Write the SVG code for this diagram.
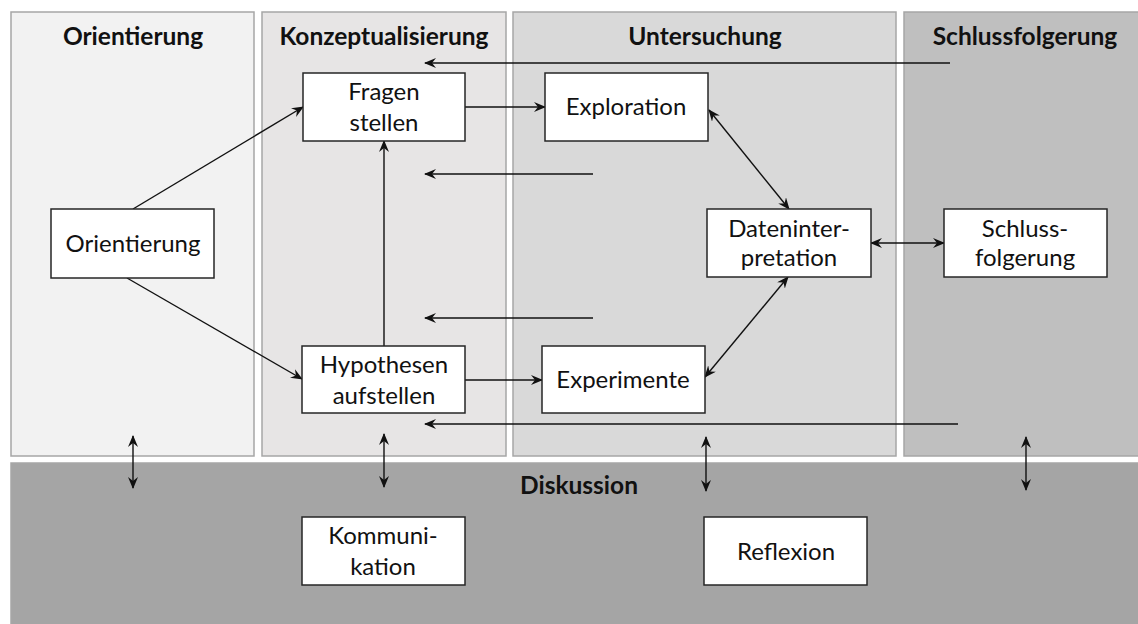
<svg xmlns="http://www.w3.org/2000/svg" width="1138" height="624" viewBox="0 0 1138 624">
<style>
.panel{stroke:#a6a6a6;stroke-width:1.5}
.node rect{fill:#fff;stroke:#262626;stroke-width:1.5}
.node text{font-family:Lato,"Liberation Sans",sans-serif;font-size:24px;fill:#111;text-anchor:middle}
.h{font-family:Lato,"Liberation Sans",sans-serif;font-size:24.5px;font-weight:bold;fill:#111;text-anchor:middle}
.c line{stroke:#111;stroke-width:1.4;fill:none}
</style>
<defs>
<marker id="a" viewBox="0 0 12 10" refX="11" refY="5" markerWidth="12" markerHeight="10" markerUnits="userSpaceOnUse" orient="auto-start-reverse">
<path d="M0,0 L12,5 L0,10 L4,5 z" fill="#111"/>
</marker>
</defs>
<rect width="1138" height="624" fill="#fff"/>
<g id="panels">
<rect class="panel" x="11" y="12" width="243" height="444" fill="#f2f2f2"/>
<rect class="panel" x="262" y="12" width="244" height="444" fill="#e7e5e5"/>
<rect class="panel" x="513" y="12" width="383" height="444" fill="#d9d9d9"/>
<rect class="panel" x="904" y="12" width="236" height="444" fill="#bfbfbf"/>
<rect class="panel" x="11" y="463" width="1129" height="163" fill="#a5a5a5"/>
<text class="h" x="133" y="45">Orientierung</text>
<text class="h" x="384" y="45">Konzeptualisierung</text>
<text class="h" x="705" y="45">Untersuchung</text>
<text class="h" x="1025" y="45">Schlussfolgerung</text>
<text class="h" x="579" y="494">Diskussion</text>
</g>
<g class="c" id="connectors">
<line x1="950" y1="63" x2="425" y2="63" marker-end="url(#a)"/>
<line x1="593" y1="174" x2="425" y2="174" marker-end="url(#a)"/>
<line x1="593" y1="318" x2="425" y2="318" marker-end="url(#a)"/>
<line x1="958" y1="424" x2="425" y2="424" marker-end="url(#a)"/>
<line x1="133" y1="209" x2="303" y2="107" marker-end="url(#a)"/>
<line x1="127" y1="278" x2="302" y2="379" marker-end="url(#a)"/>
<line x1="384" y1="346" x2="384" y2="141" marker-end="url(#a)"/>
<line x1="465" y1="107" x2="545" y2="107" marker-end="url(#a)"/>
<line x1="465" y1="380" x2="542" y2="380" marker-end="url(#a)"/>
<line x1="709" y1="110" x2="789" y2="209" marker-start="url(#a)" marker-end="url(#a)"/>
<line x1="705" y1="377" x2="788" y2="277" marker-start="url(#a)" marker-end="url(#a)"/>
<line x1="871" y1="243" x2="944" y2="243" marker-start="url(#a)" marker-end="url(#a)"/>
<line x1="133" y1="436" x2="133" y2="488" marker-start="url(#a)" marker-end="url(#a)"/>
<line x1="384" y1="434" x2="384" y2="487" marker-start="url(#a)" marker-end="url(#a)"/>
<line x1="706" y1="437" x2="706" y2="491" marker-start="url(#a)" marker-end="url(#a)"/>
<line x1="1026" y1="437" x2="1026" y2="490" marker-start="url(#a)" marker-end="url(#a)"/>
</g>
<g class="node" id="fragen"><rect x="303" y="73" width="162" height="68"/><text x="384" y="100">Fragen</text><text x="384" y="131">stellen</text></g>
<g class="node" id="exploration"><rect x="545" y="73" width="163" height="68"/><text x="626" y="115">Exploration</text></g>
<g class="node" id="orientierung"><rect x="51" y="209" width="163" height="69"/><text x="133" y="252">Orientierung</text></g>
<g class="node" id="dateninterpretation"><rect x="707" y="209" width="164" height="68"/><text x="789" y="237">Dateninter-</text><text x="789" y="266">pretation</text></g>
<g class="node" id="schlussfolgerung"><rect x="944" y="209" width="163" height="68"/><text x="1025" y="237">Schluss-</text><text x="1025" y="266">folgerung</text></g>
<g class="node" id="hypothesen"><rect x="302" y="346" width="163" height="67"/><text x="384" y="373">Hypothesen</text><text x="384" y="404">aufstellen</text></g>
<g class="node" id="experimente"><rect x="542" y="346" width="163" height="67"/><text x="623" y="388">Experimente</text></g>
<g class="node" id="kommunikation"><rect x="302" y="517" width="163" height="68"/><text x="383" y="544">Kommuni-</text><text x="383" y="575">kation</text></g>
<g class="node" id="reflexion"><rect x="704" y="517" width="163" height="68"/><text x="786" y="560">Reflexion</text></g>
</svg>
